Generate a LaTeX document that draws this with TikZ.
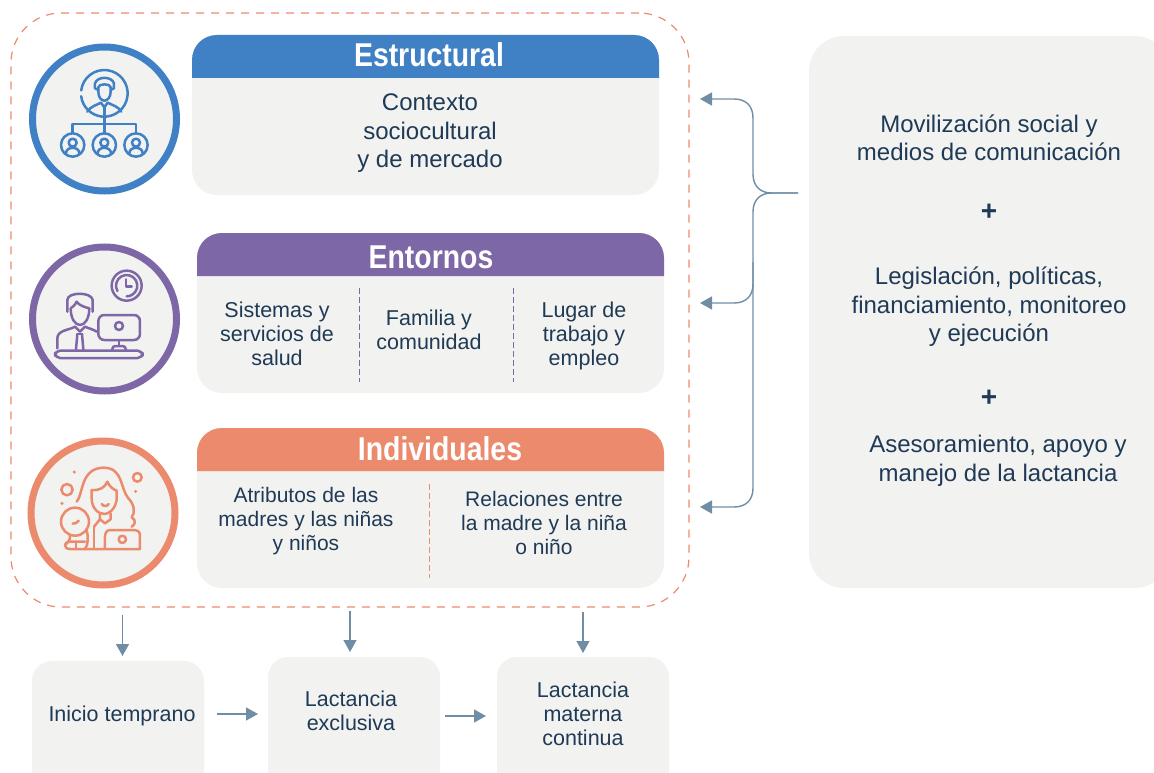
\documentclass[tikz,border=0pt]{standalone}
\usepackage{fontspec}
\setmainfont{Liberation Sans}
\newfontfamily\headfont[FakeStretch=0.86]{Liberation Sans}
\usetikzlibrary{arrows.meta}
\definecolor{navy}{HTML}{1F3A56}
\definecolor{panel}{HTML}{F2F2F0}
\definecolor{blueC}{HTML}{3F81C4}
\definecolor{purpleC}{HTML}{7E67A6}
\definecolor{orangeC}{HTML}{EC8A6D}
\definecolor{linkC}{HTML}{6F8EA6}
\tikzset{
  panelbox/.style={fill=panel,draw=none,rounded corners=25pt},
  head/.style={font=\headfont\bfseries\fontsize{33}{36}\selectfont,text=white},
  body/.style={font=\fontsize{24}{28.5}\selectfont,text=navy,align=center,inner sep=0pt},
  mid/.style={font=\fontsize{21.5}{24}\selectfont,text=navy,align=center,inner sep=0pt},
  midb/.style={font=\fontsize{21}{24}\selectfont,text=navy,align=center,inner sep=0pt},
  small/.style={font=\fontsize{21.5}{24}\selectfont,text=navy,align=center,inner sep=0pt},
  plus/.style={font=\bfseries\fontsize{28}{30}\selectfont,text=navy,inner sep=0pt},
  ring/.style={circle,draw=#1,line width=7pt,fill=panel,minimum size=144pt,inner sep=0pt},
  link/.style={draw=linkC,line width=1.4pt},
  arrowlink/.style={link,-{Triangle[length=12pt,width=13pt]}},
  ico/.style={draw=#1,line width=2.5pt,line cap=round,line join=round,fill=none},
  divider/.style={dash pattern=on 6pt off 3pt,line width=1pt},
}
\begin{document}
\begin{tikzpicture}[x=1pt,y=-1pt]
\useasboundingbox (0,0) rectangle (1154,773);
\clip (0,0) rectangle (1154,773);

% dashed frame
\node[draw=orangeC,dash pattern=on 8pt off 7pt,line width=1.2pt,rounded corners=50pt,minimum width=678pt,minimum height=594pt,inner sep=0pt] (frame) at (350,310) {};

% Right panel
\node[panelbox,rounded corners=35pt,minimum width=361pt,minimum height=552pt,inner sep=0pt] (rightp) at (989.5,312) {};
\node[body] (t1) at (989,138) {Movilización social y\\medios de comunicación};
\node[plus] (p1) at (989,212) {+};
\node[body] (t2) at (989,307) {Legislación, políticas,\\financiamiento, monitoreo\\y ejecución};
\node[plus] (p2) at (989,398) {+};
\node[body] (t3) at (998,461) {Asesoramiento, apoyo y\\manejo de la lactancia};

% Estructural
\node[panelbox,minimum width=467pt,minimum height=160pt,inner sep=0pt] (b1) at (425.5,115) {};
\fill[blueC] (192,78) -- (192,60) .. controls (192,46) and (203,35) .. (217,35) -- (634,35) .. controls (648,35) and (659,46) .. (659,60) -- (659,78) -- cycle;
\node[head] (h1) at (429,55) {Estructural};
\node[body] (b1t) at (430,133.5) {Contexto\\sociocultural\\y de mercado};

% Entornos
\node[panelbox,minimum width=467pt,minimum height=160pt,inner sep=0pt] (b2) at (430.5,313) {};
\fill[purpleC] (197,276) -- (197,258) .. controls (197,244) and (208,233) .. (222,233) -- (639,233) .. controls (653,233) and (664,244) .. (664,258) -- (664,276) -- cycle;
\node[head] (h2) at (431,257) {Entornos};
\node[mid] (b2a) at (277,333.5) {Sistemas y\\servicios de\\salud};
\node[mid] (b2b) at (429,330) {Familia y\\comunidad};
\node[mid] (b2c) at (584,335.5) {Lugar de\\trabajo y\\empleo};
\coordinate (d1a) at (359,288); \coordinate (d1b) at (359,382);
\coordinate (d2a) at (513,288); \coordinate (d2b) at (513,382);
\draw[divider,purpleC] (d1a) -- (d1b);
\draw[divider,purpleC] (d2a) -- (d2b);

% Individuales
\node[panelbox,minimum width=467pt,minimum height=160pt,inner sep=0pt] (b3) at (430.5,508) {};
\fill[orangeC] (197,471) -- (197,453) .. controls (197,439) and (208,428) .. (222,428) -- (639,428) .. controls (653,428) and (664,439) .. (664,453) -- (664,471) -- cycle;
\node[head] (h3) at (440,449) {Individuales};
\node[midb] (b3a) at (306,521.5) {Atributos de las\\madres y las niñas\\y niños};
\node[midb] (b3b) at (544,523) {Relaciones entre\\la madre y la niña\\o niño};
\coordinate (d3a) at (429,484); \coordinate (d3b) at (429,578);
\draw[divider,orangeC] (d3a) -- (d3b);

% Circles
\node[ring=blueC] (c1) at (104.5,119) {};
\node[ring=purpleC] (c2) at (104.5,319) {};
\node[ring=orangeC] (c3) at (103,513) {};

% Blue icon
\begin{scope}[scale=1/3]
\draw[ico=blueC] (243.5,271.5) arc (187:533:70);
\draw[ico=blueC] (295,262) .. controls (295,250) and (332,250) .. (332,262) -- (332,275) .. controls (332,292) and (322,302) .. (313,302) .. controls (304,302) and (295,292) .. (295,275) -- cycle;
\draw[ico=blueC] (295,270) -- (285,265) -- (285,250) .. controls (292,228) and (335,228) .. (342,250) -- (342,265) -- (332,270);
\draw[ico=blueC] (262,335) .. controls (270,320) and (290,315) .. (303,308) -- (313,322) -- (323,308) .. controls (336,315) and (356,320) .. (364,335);
\draw[ico=blueC] (313,322) -- (313,400);
\draw[ico=blueC] (218,398) -- (218,372) -- (408,372) -- (408,398);
\foreach \cx in {218,313,408}{
  \draw[ico=blueC] (\cx,435) circle (35);
  \draw[ico=blueC] (\cx,428) circle (12);
  \draw[ico=blueC] (\cx-20,460) .. controls (\cx-20,438) and (\cx+20,438) .. (\cx+20,460);
}
\end{scope}

% Purple icon
\begin{scope}[shift={(20,230)},scale=1/3]
\draw[ico=purpleC] (320,167) circle (45);
\draw[ico=purpleC] (292.3,183) arc (150:450:32);
\draw[ico=purpleC] (318,148) -- (318,170) -- (335,170);
\draw[ico=purpleC] (142,245) -- (142,210) .. controls (142,185) and (215,185) .. (218,210) -- (218,245);
\draw[ico=purpleC] (152,235) .. controls (152,265) and (165,285) .. (180,285) .. controls (195,285) and (208,265) .. (208,235) .. controls (195,232) and (175,225) .. (170,215) .. controls (165,225) and (158,232) .. (152,235);
\draw[ico=purpleC] (112,355) -- (112,325) .. controls (112,300) and (150,300) .. (165,290) -- (180,305) -- (195,290) .. controls (205,295) and (220,298) .. (230,305);
\draw[ico=purpleC] (172,312) -- (168,358); \draw[ico=purpleC] (186,312) -- (190,358); \draw[ico=purpleC] (172,312) -- (186,312);
\draw[ico=purpleC,rounded corners=6pt] (235,255) rectangle (360,330);
\draw[ico=purpleC] (297,288) circle (12);
\draw[ico=purpleC] (297,330) -- (297,345);
\draw[ico=purpleC,rounded corners=3pt] (277,358) -- (277,348) -- (317,348) -- (317,358);
\draw[ico=purpleC,rounded corners=5pt] (105,362) rectangle (368,384);
\end{scope}

% Orange icon
\begin{scope}[shift={(20,430)},scale=1/3]
\draw[ico=orangeC] (141,179) circle (17);
\draw[ico=orangeC] (352,142) circle (13);
\fill[orangeC] (163,126) circle (5) (347,184) circle (5) (126,220) circle (5);
\draw[ico=orangeC] (170,215) .. controls (190,195) and (180,115) .. (250,113) .. controls (310,113) and (300,175) .. (325,205) .. controls (345,225) and (345,250) .. (335,262) .. controls (350,270) and (345,285) .. (335,290);
\draw[ico=orangeC] (215,180) .. controls (240,182) and (255,172) .. (262,155) .. controls (268,170) and (280,178) .. (290,182) -- (290,210) .. controls (285,240) and (265,252) .. (253,252) .. controls (235,252) and (215,235) .. (215,205) -- cycle;
\draw[ico=orangeC] (245,222) .. controls (250,230) and (262,230) .. (266,222);
\draw[ico=orangeC] (240,250) -- (240,268) -- (255,280) -- (272,268) -- (272,250);
\draw[ico=orangeC] (222,290) -- (240,268);
\draw[ico=orangeC] (165,275) circle (42);
\draw[ico=orangeC] (158,281) .. controls (165,282) and (172,278) .. (176,272);
\draw[ico=orangeC] (150,316) .. controls (152,330) and (145,335) .. (135,345);
\draw[ico=orangeC] (200,300) .. controls (205,320) and (205,345) .. (195,357) -- (150,357) .. controls (130,357) and (130,335) .. (150,335) -- (195,335);
\draw[ico=orangeC] (168,335) -- (168,357);
\draw[ico=orangeC] (222,290) -- (222,357);
\draw[ico=orangeC] (195,357) -- (360,357) -- (360,315) .. controls (360,305) and (350,300) .. (345,300) -- (270,300) .. controls (260,300) and (255,310) .. (255,320) -- (255,357);
\draw[ico=orangeC] (307,328) circle (11);
\end{scope}

% Connectors right
\coordinate (src) at (798,193);
\coordinate (a1) at (700,99);
\coordinate (a2) at (700,303);
\coordinate (a3) at (700,507);
\draw[arrowlink] (src) -- (772,193) .. controls (760,193) and (753,186) .. (753,174) -- (753,118) .. controls (753,106) and (746,99) .. (734,99) -- (a1);
\draw[arrowlink] (src) -- (772,193) .. controls (760,193) and (753,200) .. (753,212) -- (753,284) .. controls (753,296) and (746,303) .. (734,303) -- (a2);
\draw[arrowlink] (753,262) -- (753,488) .. controls (753,500) and (746,507) .. (734,507) -- (a3);

% Bottom boxes
\node[panelbox,rounded corners=20pt,minimum width=172pt,minimum height=130pt,inner sep=0pt] (n1) at (118,726) {};
\node[panelbox,rounded corners=20pt,minimum width=172pt,minimum height=134pt,inner sep=0pt] (n2) at (354,724) {};
\node[panelbox,rounded corners=20pt,minimum width=172pt,minimum height=134pt,inner sep=0pt] (n3) at (583,724) {};
\node[small] (n1t) at (122,716) {Inicio temprano};
\node[small] (n2t) at (351,711) {Lactancia\\exclusiva};
\node[small] (n3t) at (583,714) {Lactancia\\materna\\continua};

\coordinate (v1a) at (122.5,615); \coordinate (v1b) at (122.5,656);
\coordinate (v2a) at (350,611); \coordinate (v2b) at (350,652);
\coordinate (v3a) at (583,612); \coordinate (v3b) at (583,653);
\coordinate (h1a) at (217,714); \coordinate (h1b) at (258,714);
\coordinate (h2a) at (445,716); \coordinate (h2b) at (486,716);
\draw[arrowlink] (v1a) -- (v1b);
\draw[arrowlink] (v2a) -- (v2b);
\draw[arrowlink] (v3a) -- (v3b);
\draw[arrowlink] (h1a) -- (h1b);
\draw[arrowlink] (h2a) -- (h2b);
\end{tikzpicture}
\end{document}
